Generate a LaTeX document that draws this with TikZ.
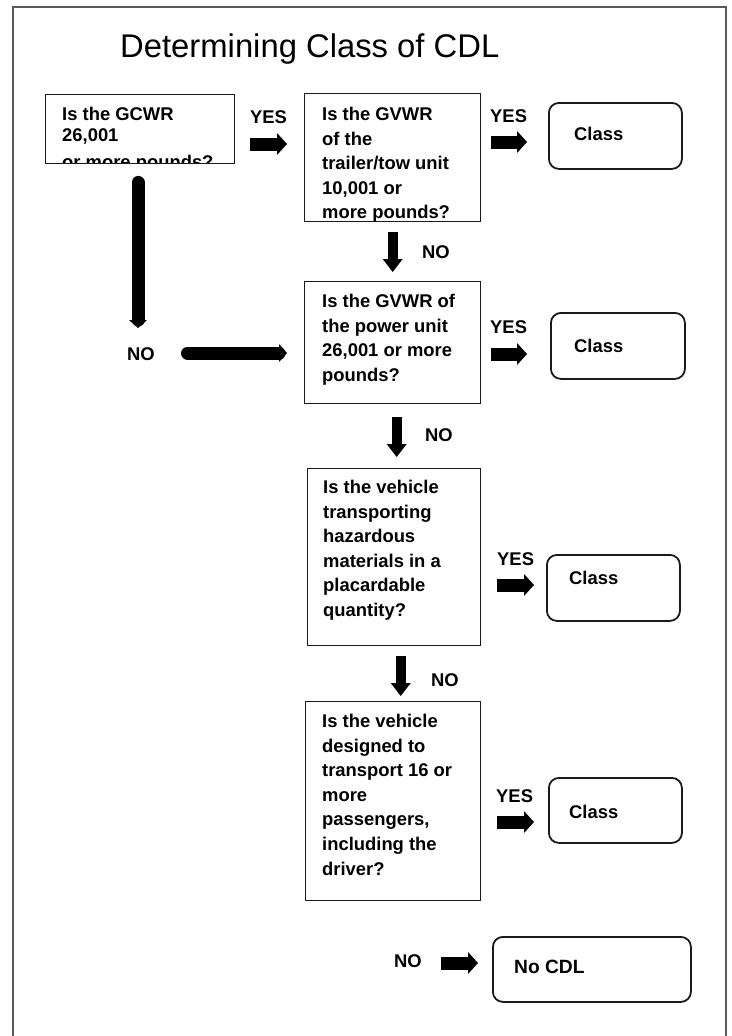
\documentclass[tikz,border=0pt]{standalone}
\usepackage{fontspec}
\setmainfont{Liberation Sans}
\usetikzlibrary{arrows.meta}
\definecolor{framegray}{HTML}{595959}
\definecolor{ink}{HTML}{1A1A1A}
\begin{document}
\begin{tikzpicture}[x=1pt,y=-1pt,
  frame/.style={draw=framegray,line width=2pt},
  qbox/.style={draw=ink,line width=1.4pt,rectangle,inner sep=0pt,anchor=north west},
  cbox/.style={draw=ink,line width=1.8pt,rectangle,rounded corners=10pt,inner sep=0pt,anchor=north west},
  qtext/.style={anchor=north west,inner sep=0pt,align=left,font=\bfseries\fontsize{18.4}{24.6}\selectfont},
  lbl/.style={anchor=base west,inner sep=0pt,font=\bfseries\fontsize{18.4}{22}\selectfont},
  rarr/.style={draw=black,line width=13pt,-{Triangle[length=10pt,width=22pt,line width=0pt]}},
  darr/.style={draw=black,line width=10pt,-{Triangle[length=13pt,width=20pt,line width=0pt]}},
  thickline/.style={draw=black,line width=13pt,line cap=round,-{Triangle[length=8pt,width=18pt,line width=0pt]}}
]
\useasboundingbox (0,0) rectangle (731,1036);
\fill[white] (0,0) rectangle (731,1036);
\draw[frame] (13,1036) -- (13,7) -- (726,7) -- (726,1036);

\node[anchor=base west,inner sep=0pt,font=\fontsize{32.8}{38}\selectfont] (title) at (120,57) {Determining Class of CDL};

% question boxes
\begin{scope}
\clip (45,94) rectangle (234,163);
\node[qtext,font=\bfseries\fontsize{18.4}{21}\selectfont] (t1) at (62,107) {Is the GCWR\\26,001\\[6pt]or more pounds?};
\end{scope}
\node[qbox,minimum width=189pt,minimum height=69pt] (q1) at (45,94) {};

\node[qbox,minimum width=176pt,minimum height=128pt] (q2) at (304,93) {};
\node[qtext] (t2) at (322,107) {Is the GVWR\\of the\\trailer/tow unit\\10,001 or\\more pounds?};

\node[qbox,minimum width=176pt,minimum height=122pt] (q3) at (304,281) {};
\node[qtext] (t3) at (322,294) {Is the GVWR of\\the power unit\\26,001 or more\\pounds?};

\node[qbox,minimum width=173pt,minimum height=177pt] (q4) at (307,468) {};
\node[qtext] (t4) at (323,480) {Is the vehicle\\transporting\\hazardous\\materials in a\\placardable\\quantity?};

\node[qbox,minimum width=175pt,minimum height=199pt] (q5) at (305,701) {};
\node[qtext] (t5) at (322,714) {Is the vehicle\\designed to\\transport 16 or\\more\\passengers,\\including the\\driver?};

% result boxes
\node[cbox,minimum width=133pt,minimum height=66pt] (c1) at (548,102) {};
\node[lbl] (c1t) at (574,140) {Class};
\node[cbox,minimum width=134pt,minimum height=66pt] (c2) at (550,312) {};
\node[lbl] (c2t) at (574,352) {Class};
\node[cbox,minimum width=133pt,minimum height=66pt] (c3) at (546,554) {};
\node[lbl] (c3t) at (569,584) {Class};
\node[cbox,minimum width=133pt,minimum height=65pt] (c4) at (548,777) {};
\node[lbl] (c4t) at (569,818) {Class};
\node[cbox,minimum width=198pt,minimum height=65pt] (c5) at (492,936) {};
\node[lbl,font=\bfseries\fontsize{19.2}{22}\selectfont] (c5t) at (514,973) {No CDL};

% labels
\node[lbl] (y1) at (250,123) {YES};
\node[lbl] (y2) at (490,122) {YES};
\node[lbl] (y3) at (490,333) {YES};
\node[lbl] (y4) at (497,565) {YES};
\node[lbl] (y5) at (496,802) {YES};
\node[lbl] (n1) at (422,258) {NO};
\node[lbl] (n2) at (127,360) {NO};
\node[lbl] (n3) at (425,441) {NO};
\node[lbl] (n4) at (431,686) {NO};
\node[lbl] (n5) at (394,967) {NO};

% block arrow end points
\coordinate (r1s) at (250,144); \coordinate (r1e) at (287,144);
\coordinate (r2s) at (491,142); \coordinate (r2e) at (527,142);
\coordinate (r3s) at (491,354); \coordinate (r3e) at (527,354);
\coordinate (r4s) at (497,585); \coordinate (r4e) at (534,585);
\coordinate (r5s) at (497,822); \coordinate (r5e) at (534,822);
\coordinate (r6s) at (441,963); \coordinate (r6e) at (478,963);
\draw[rarr] (r1s) -- (r1e);
\draw[rarr] (r2s) -- (r2e);
\draw[rarr] (r3s) -- (r3e);
\draw[rarr] (r4s) -- (r4e);
\draw[rarr] (r5s) -- (r5e);
\draw[rarr] (r6s) -- (r6e);

\draw[darr,shorten <=10pt,shorten >=9pt] (q2.south) -- (q3.north);
\draw[darr,shorten <=13pt,shorten >=11pt] ([xshift=4pt]q3.south) -- ([xshift=4pt]q3.south |- q4.north);
\draw[darr,shorten <=10pt,shorten >=5pt] ([xshift=6.5pt]q4.south) -- ([xshift=6.5pt]q4.south |- q5.north);

% thick NO connector
\coordinate (v1) at (138,328);
\coordinate (h1) at (187.5,353);
\draw[thickline,shorten <=18pt] (q1.south -| v1) -- (v1);
\draw[thickline,shorten >=17pt] (h1) -- (h1 -| q3.west);
\end{tikzpicture}
\end{document}
